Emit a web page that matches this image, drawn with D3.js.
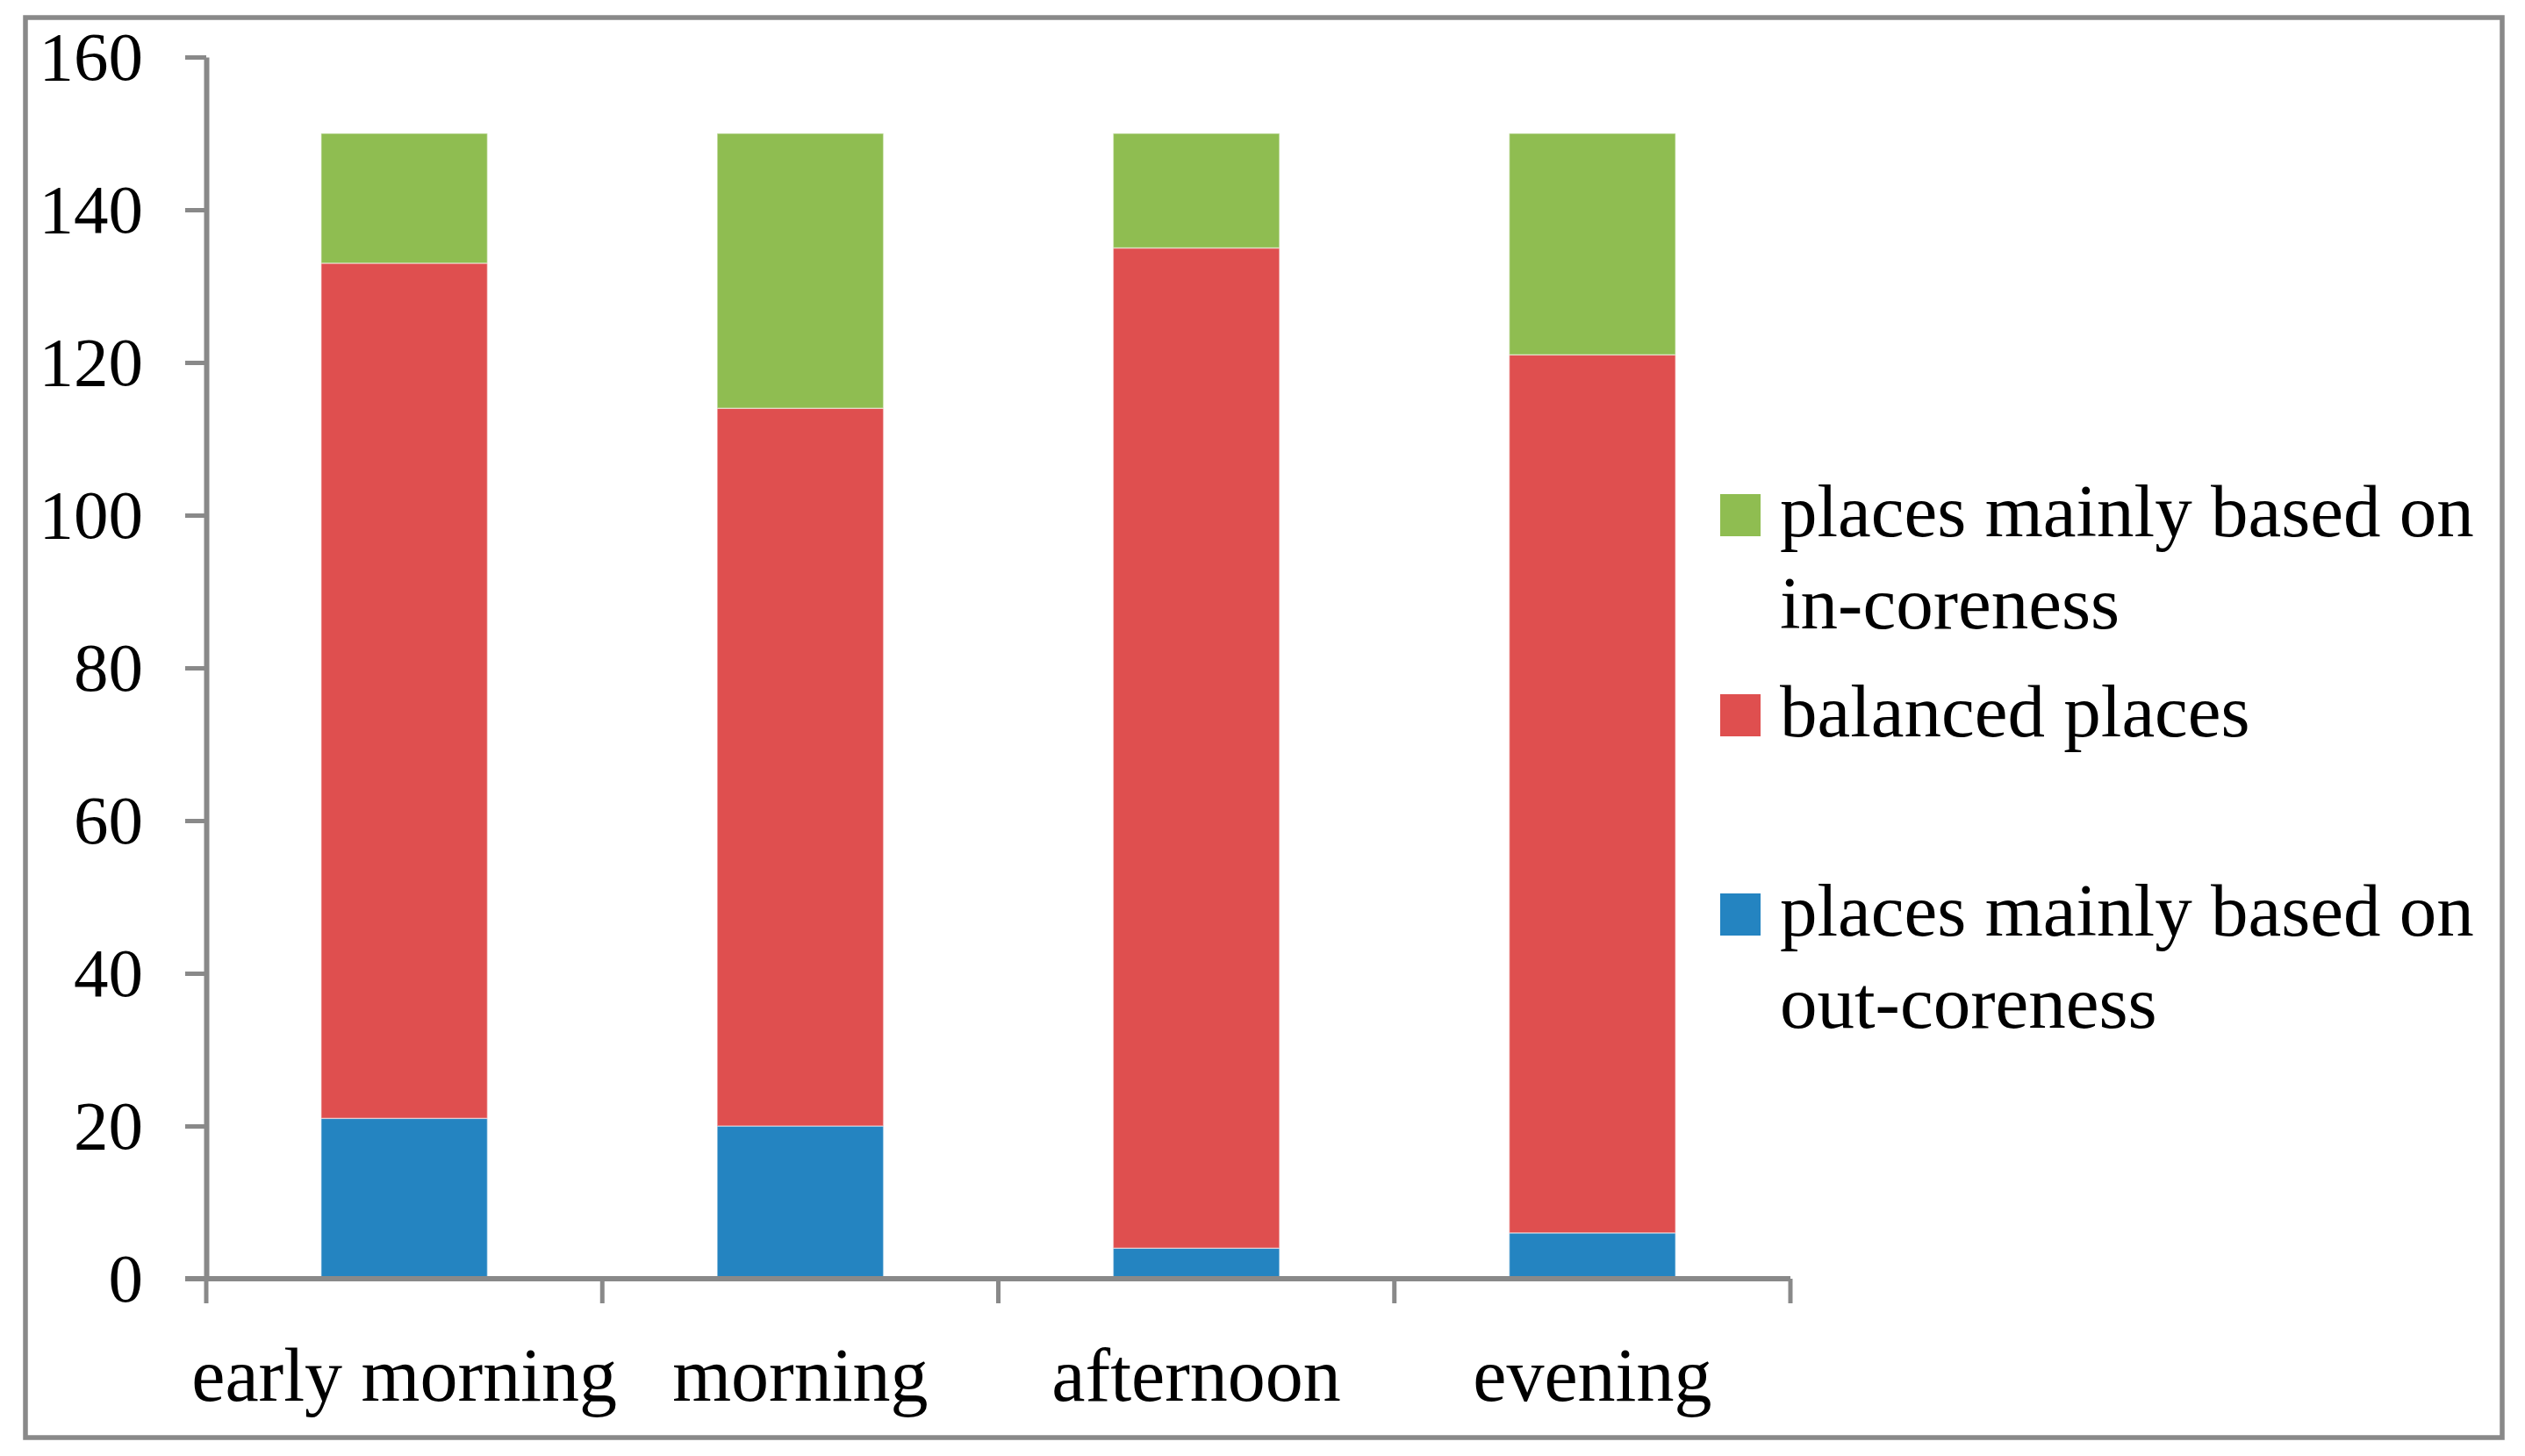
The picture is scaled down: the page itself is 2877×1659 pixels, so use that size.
<!DOCTYPE html>
<html>
<head>
<meta charset="utf-8">
<script src="https://cdn.jsdelivr.net/npm/d3@7"></script>
<style>
  body { margin: 0; background: #fff; }
  svg { display: block; }
</style>
</head>
<body>
<svg id="svg1" width="2877" height="1659"></svg>
<script>
// data
var categories = ["early morning", "morning", "afternoon", "evening"];
var outCore = [21, 20, 4, 6];        // places mainly based on out-coreness
var balanced = [112, 94, 131, 115];  // balanced places
var inCore = [17, 36, 15, 29];       // places mainly based on in-coreness
var yTicks = [0, 20, 40, 60, 80, 100, 120, 140, 160];

var keys = ["out", "bal", "in"];

var svg1 = d3.select("#svg1"),
	margin = {top: 65, left: 235},
	width = 2040 - 235,
	height = 1457 - 65,
	g1 = svg1.append("g").attr("transform", "translate(" + margin.left + "," + margin.top + ")");

var gray = "#898989";
var font = "'Liberation Serif', 'Times New Roman', serif";

// outer frame
svg1.append("rect")
	.attr("x", 29).attr("y", 20)
	.attr("width", 2851 - 29).attr("height", 1638 - 20)
	.attr("fill", "none")
	.attr("stroke", gray)
	.attr("stroke-width", 5.5);

var x0 = d3.scaleBand()
	.domain(categories)
	.range([0, width])
	.paddingInner(0);

var y = d3.scaleLinear()
	.domain([0, 160])
	.range([height, 0]);

var z = d3.scaleOrdinal()
	.domain(keys)
	.range(["#2484C1", "#DF4F4F", "#8FBD51"]);

var table = categories.map(function(c, i) {
	return {cat: c, out: outCore[i], bal: balanced[i], in: inCore[i]};
});

var stack = d3.stack().keys(keys)(table);

var barW = x0.bandwidth() * 0.42;

g1.append("g")
	.selectAll("g")
	.data(stack)
	.enter().append("g")
	.attr("fill", function(d) { return z(d.key); })
	.selectAll("rect")
	.data(function(d) { return d; })
	.enter().append("rect")
	.attr("x", function(d) { return x0(d.data.cat) + (x0.bandwidth() - barW) / 2; })
	.attr("y", function(d) { return y(d[1]); })
	.attr("width", barW)
	.attr("height", function(d) { return y(d[0]) - y(d[1]); })
	.attr("stroke", "rgba(255,255,255,0.45)")
	.attr("stroke-width", 1.5);

// y axis
var yAxis = g1.append("g")
	.call(d3.axisLeft(y).tickValues(yTicks).tickSize(24).tickPadding(48).tickSizeOuter(0));
yAxis.select(".domain").attr("stroke", gray).attr("stroke-width", 6);
yAxis.selectAll(".tick line").attr("stroke", gray).attr("stroke-width", 5);
yAxis.selectAll(".tick text")
	.attr("font-family", font)
	.attr("font-size", 79)
	.attr("fill", "#000");

// x axis: ticks at band boundaries
var xAxis = g1.append("g").attr("transform", "translate(0," + height + ")");
xAxis.append("line")
	.attr("x1", -24).attr("x2", width)
	.attr("stroke", gray).attr("stroke-width", 6);
var bounds = categories.map(function(c) { return x0(c); }).concat([width]);
xAxis.selectAll("line.tk")
	.data(bounds)
	.enter().append("line")
	.attr("class", "tk")
	.attr("x1", function(d) { return d; })
	.attr("x2", function(d) { return d; })
	.attr("y1", 0).attr("y2", 28)
	.attr("stroke", gray).attr("stroke-width", 5);
xAxis.selectAll("text")
	.data(categories)
	.enter().append("text")
	.attr("x", function(d) { return x0(d) + x0.bandwidth() / 2; })
	.attr("y", 1596 - 1457)
	.attr("text-anchor", "middle")
	.attr("font-family", font)
	.attr("font-size", 86)
	.text(function(d) { return d; });

// legend
var legendItems = [
	{key: "in", lines: ["places mainly based on", "in-coreness"], base: 611},
	{key: "bal", lines: ["balanced places"], base: 839},
	{key: "out", lines: ["places mainly based on", "out-coreness"], base: 1066}
];

var legend = svg1.append("g")
	.attr("font-family", font)
	.attr("font-size", 85)
	.selectAll("g")
	.data(legendItems)
	.enter().append("g")
	.attr("transform", function(d) { return "translate(0," + d.base + ")"; });

legend.append("rect")
	.attr("x", 1960)
	.attr("y", -48)
	.attr("width", 46)
	.attr("height", 48)
	.attr("fill", function(d) { return z(d.key); });

legend.selectAll("text")
	.data(function(d) { return d.lines; })
	.enter().append("text")
	.attr("x", 2028)
	.attr("y", function(d, i) { return i * 105; })
	.text(function(d) { return d; });
</script>
</body>
</html>
